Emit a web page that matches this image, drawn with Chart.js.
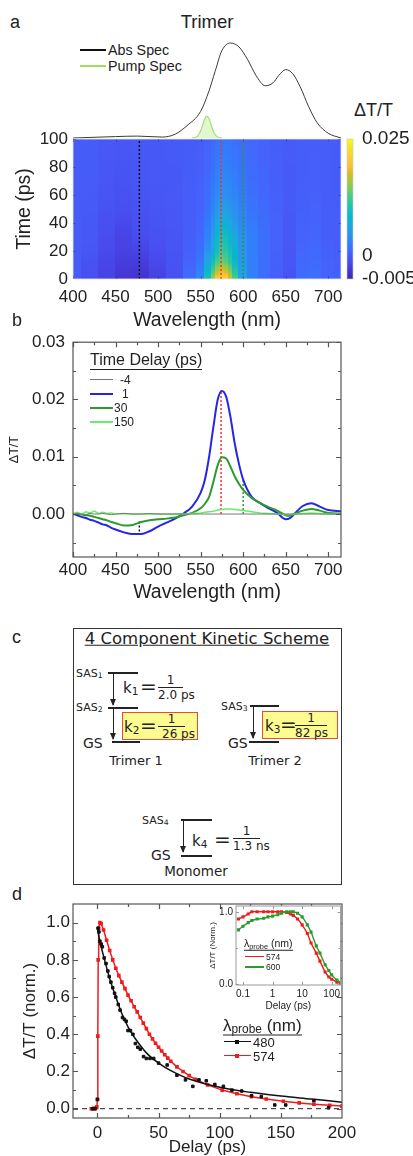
<!DOCTYPE html>
<html>
<head>
<meta charset="utf-8">
<title>Trimer transient absorption</title>
<script src="https://cdn.jsdelivr.net/npm/chart.js@4.4.1/dist/chart.umd.min.js"></script>
<style>
  body { margin: 0; background: #fff; font-family: "Liberation Sans", Arial, sans-serif; color: #222; }
  #page { position: relative; width: 413px; height: 1156px; overflow: hidden; }
  canvas { position: absolute; }
  .t { position: absolute; white-space: nowrap; line-height: 1; transform: translateY(-50%); }
  .c { transform: translate(-50%, -50%); }
  .ln { position: absolute; height: 0; }
  .mk { position: absolute; width: 4px; height: 4px; }
  sub { font-size: 70%; vertical-align: -0.25em; line-height: 0; }
  .ul { display: inline-block; border-bottom: 1.3px solid #222; padding-bottom: 1px; }
  .scheme { font-family: "DejaVu Sans", Verdana, sans-serif; color: #222; }
  .box { position: absolute; border: 1.5px solid #333; box-sizing: border-box; }
  .lvl { position: absolute; height: 0; border-top: 2px solid #222; }
  .arr { position: absolute; width: 0; border-left: 1.5px solid #222; }
  .arr::after { content: ""; position: absolute; left: -4.3px; bottom: -1px; border-left: 3.5px solid transparent; border-right: 3.5px solid transparent; border-top: 7px solid #222; }
  .frac { position: absolute; font-size: 12px; line-height: 1; white-space: nowrap; }
  .frac .n { display: block; text-align: center; border-bottom: 1.3px solid #222; padding-bottom: 1px; }
  .frac .d { display: block; padding-top: 1px; }
  .hl { position: absolute; background: #fbfb8f; border: 1.5px solid #e84a3a; box-sizing: border-box; }
</style>
</head>
<body>
<div id="page">
  <!-- panel a -->
  <div class="t" style="left:10px;top:22px;font-size:18px">a</div>
  <div class="t c" style="left:207px;top:22px;font-size:18.5px">Trimer</div>
  <div class="ln" style="left:80px;top:49px;width:26px;border-top:2.5px solid #111"></div>
  <div class="t" style="left:108px;top:50px;font-size:14.3px">Abs Spec</div>
  <div class="ln" style="left:80px;top:65px;width:26px;border-top:2.5px solid #9be05a"></div>
  <div class="t" style="left:108px;top:66px;font-size:14.3px">Pump Spec</div>
  <div class="t" style="left:354px;top:110px;font-size:18px">ΔT/T</div>
  <canvas id="absChart" width="268" height="103" style="left:73px;top:36px"></canvas>
  <canvas id="mapChart" width="413" height="212" style="left:0;top:120px"></canvas>

  <!-- panel b -->
  <div class="t" style="left:12px;top:320px;font-size:18px">b</div>
  <canvas id="specChart" width="413" height="274" style="left:0;top:330px"></canvas>
  <div class="t" style="left:90px;top:361px;font-size:16px"><span class="ul">Time Delay (ps)</span></div>
  <div class="ln" style="left:90px;top:379px;width:23px;border-top:1.5px solid #777"></div>
  <div class="t" style="left:120px;top:380px;font-size:12px">-4</div>
  <div class="ln" style="left:90px;top:393px;width:23px;border-top:2px solid #2626e6"></div>
  <div class="t" style="left:122px;top:394px;font-size:12px">1</div>
  <div class="ln" style="left:90px;top:407px;width:23px;border-top:2px solid #2e9a2e"></div>
  <div class="t" style="left:114px;top:408px;font-size:12px">30</div>
  <div class="ln" style="left:90px;top:421px;width:23px;border-top:2px solid #66ee66"></div>
  <div class="t" style="left:114px;top:422px;font-size:12px">150</div>

  <!-- panel c -->
  <div class="t" style="left:12px;top:637px;font-size:18px">c</div>
  <div class="box" style="left:73px;top:628px;width:269px;height:257px"></div>
  <div class="t c scheme" style="left:207px;top:639px;font-size:16.5px;text-decoration:underline">4 Component Kinetic Scheme</div>

  <div class="t scheme" style="left:76px;top:673px;font-size:11px">SAS<sub>1</sub></div>
  <div class="lvl" style="left:108px;top:672px;width:30px"></div>
  <div class="arr" style="left:113px;top:674px;height:31px"></div>
  <div class="t scheme" style="left:123px;top:688px;font-size:15px">k<sub>1</sub></div>
  <div class="t scheme" style="left:140px;top:686px;font-size:20px">=</div>
  <div class="frac scheme" style="left:158px;top:674px"><span class="n" style="width:25px">1</span><span class="d">2.0 ps</span></div>

  <div class="t scheme" style="left:76px;top:707px;font-size:11px">SAS<sub>2</sub></div>
  <div class="lvl" style="left:108px;top:707px;width:30px"></div>
  <div class="arr" style="left:113px;top:709px;height:30px"></div>
  <div class="hl" style="left:122px;top:712px;width:76px;height:28px"></div>
  <div class="t scheme" style="left:124px;top:727px;font-size:15px">k<sub>2</sub></div>
  <div class="t scheme" style="left:140px;top:725px;font-size:20px">=</div>
  <div class="frac scheme" style="left:158px;top:713px"><span class="n" style="width:27px">1</span><span class="d" style="padding-left:4px">26 ps</span></div>
  <div class="t scheme" style="left:83px;top:743px;font-size:14px">GS</div>
  <div class="lvl" style="left:112px;top:741px;width:28px"></div>
  <div class="t c scheme" style="left:136px;top:760px;font-size:13px">Trimer 1</div>

  <div class="t scheme" style="left:221px;top:706px;font-size:11px">SAS<sub>3</sub></div>
  <div class="lvl" style="left:250px;top:705px;width:29px"></div>
  <div class="arr" style="left:253px;top:707px;height:31px"></div>
  <div class="hl" style="left:262px;top:711px;width:76px;height:28px"></div>
  <div class="t scheme" style="left:265px;top:726px;font-size:15px">k<sub>3</sub></div>
  <div class="t scheme" style="left:280px;top:724px;font-size:20px">=</div>
  <div class="frac scheme" style="left:295px;top:712px"><span class="n" style="width:32px">1</span><span class="d">82 ps</span></div>
  <div class="t scheme" style="left:228px;top:743px;font-size:14px">GS</div>
  <div class="lvl" style="left:249px;top:741px;width:30px"></div>
  <div class="t c scheme" style="left:275px;top:760px;font-size:13px">Trimer 2</div>

  <div class="t scheme" style="left:142px;top:820px;font-size:11px">SAS<sub>4</sub></div>
  <div class="lvl" style="left:181px;top:819px;width:31px"></div>
  <div class="arr" style="left:183px;top:821px;height:31px"></div>
  <div class="t scheme" style="left:192px;top:841px;font-size:15px">k<sub>4</sub></div>
  <div class="t scheme" style="left:214px;top:839px;font-size:20px">=</div>
  <div class="frac scheme" style="left:233px;top:825px"><span class="n" style="width:27px">1</span><span class="d">1.3 ns</span></div>
  <div class="t scheme" style="left:151px;top:855px;font-size:14px">GS</div>
  <div class="lvl" style="left:181px;top:855px;width:31px"></div>
  <div class="t c scheme" style="left:196px;top:872px;font-size:13.5px">Monomer</div>

  <!-- panel d -->
  <div class="t" style="left:12px;top:894px;font-size:18px">d</div>
  <canvas id="decayChart" width="413" height="273" style="left:0;top:885px"></canvas>
  <canvas id="insetChart" width="150" height="117" style="left:196px;top:895px"></canvas>
  <div class="t" style="left:223px;top:1026px;font-size:17px"><span class="ul">λ<sub>probe</sub> (nm)</span></div>
  <div class="ln" style="left:224px;top:1041px;width:27px;border-top:1.5px solid #111"></div>
  <div class="mk" style="left:235px;top:1040px;background:#111"></div>
  <div class="t" style="left:253px;top:1042px;font-size:13px">480</div>
  <div class="ln" style="left:224px;top:1055px;width:27px;border-top:1.5px solid #f01c1c"></div>
  <div class="mk" style="left:235px;top:1054px;background:#f01c1c"></div>
  <div class="t" style="left:253px;top:1056px;font-size:13px">574</div>
  <div class="t" style="left:244px;top:944px;font-size:10.5px"><span class="ul">λ<sub>probe</sub> (nm)</span></div>
  <div class="ln" style="left:245px;top:956px;width:19px;border-top:1.2px solid #f01c1c"></div>
  <div class="t" style="left:266px;top:957px;font-size:8.5px">574</div>
  <div class="ln" style="left:245px;top:966px;width:19px;border-top:2px solid #2e9a2e"></div>
  <div class="t" style="left:266px;top:967px;font-size:8.5px">600</div>
</div>

<script>
// ---------- panel a: steady-state spectra (normalised) ----------
const absWl  = [400, 450, 476, 505, 520, 534, 550, 560, 567, 575, 585, 595, 605, 615, 626, 635, 642, 650, 658, 667, 677, 687, 700, 715];
const absVal = [0.0, 0.015, 0.02, 0.01, 0.04, 0.13, 0.28, 0.5, 0.7, 0.92, 1.0, 0.96, 0.83, 0.66, 0.55, 0.58, 0.66, 0.72, 0.68, 0.54, 0.33, 0.16, 0.05, 0.0];
const pumpWl  = [540, 545, 548, 551, 554, 557, 560, 563, 566, 570, 575];
const pumpVal = [0, 0.01, 0.04, 0.1, 0.18, 0.23, 0.2, 0.12, 0.05, 0.01, 0];

// ---------- panel a: dT/T map (rows = delay, columns = wavelength) ----------
const mapWl = [400, 420, 440, 460, 480, 500, 520, 540, 550, 560, 565, 570, 575, 580, 585, 590, 600, 610, 625, 640, 655, 670, 685, 700, 715];
const mapT  = [1, 5, 12, 20, 30, 45, 60, 80, 100];
const mapRow1   = [0, -0.001, -0.0021, -0.0032, -0.0035, -0.0022, -0.0008, 0.0013, 0.0037, 0.01, 0.0152, 0.0199, 0.0215, 0.0205, 0.017, 0.0124, 0.006, 0.003, 0.0014, 0.0002, -0.0007, 0.0014, 0.0016, 0.0007, 0.0005];
const mapRow5   = [0, -0.001, -0.002, -0.003, -0.0032, -0.002, -0.0008, 0.001, 0.003, 0.0085, 0.013, 0.017, 0.0185, 0.0178, 0.015, 0.011, 0.0058, 0.003, 0.0014, 0.0003, -0.0006, 0.0012, 0.0014, 0.0006, 0.0004];
const mapRow12  = [0, -0.0008, -0.0018, -0.0026, -0.0026, -0.0016, -0.0007, 0.0007, 0.0022, 0.0065, 0.0098, 0.0128, 0.014, 0.0135, 0.0115, 0.0088, 0.005, 0.0028, 0.0014, 0.0004, -0.0005, 0.001, 0.0012, 0.0005, 0.0003];
const mapRow20  = [0, -0.0005, -0.0015, -0.0022, -0.002, -0.0012, -0.0006, 0.0004, 0.0015, 0.0045, 0.007, 0.0095, 0.0115, 0.0112, 0.0098, 0.0078, 0.0046, 0.0027, 0.0014, 0.0005, -0.0004, 0.0008, 0.001, 0.0004, 0.0002];
const mapRow30  = [0, -0.0003, -0.0013, -0.002, -0.0013, -0.0009, -0.0006, 0.0002, 0.001, 0.003, 0.0056, 0.0085, 0.0099, 0.0097, 0.0083, 0.0066, 0.0042, 0.0028, 0.0015, 0.0006, -0.0003, 0.0006, 0.0008, 0.0002, 0.0001];
const mapRow45  = [0, -0.0002, -0.0009, -0.0013, -0.0009, -0.0006, -0.0004, 0.0001, 0.0007, 0.002, 0.0038, 0.0056, 0.0066, 0.0065, 0.0056, 0.0046, 0.0031, 0.0021, 0.0012, 0.0005, -0.0002, 0.0004, 0.0006, 0.0002, 0.0001];
const mapRow60  = [0, -0.0001, -0.0006, -0.0009, -0.0006, -0.0004, -0.0003, 0.0001, 0.0005, 0.0014, 0.0026, 0.0038, 0.0045, 0.0044, 0.0039, 0.0033, 0.0023, 0.0016, 0.0009, 0.0004, -0.0001, 0.0003, 0.0004, 0.0001, 0];
const mapRow80  = [0, 0, -0.0004, -0.0006, -0.0004, -0.0003, -0.0002, 0, 0.0003, 0.0009, 0.0017, 0.0025, 0.003, 0.003, 0.0027, 0.0023, 0.0017, 0.0012, 0.0007, 0.0003, -0.0001, 0.0002, 0.0003, 0.0001, 0];
const mapRow100 = [0, 0, -0.0003, -0.0004, -0.0003, -0.0002, -0.0001, 0, 0.0002, 0.0006, 0.0012, 0.0017, 0.002, 0.002, 0.0019, 0.0016, 0.0012, 0.0009, 0.0005, 0.0002, 0, 0.0001, 0.0002, 0.0001, 0];
const mapRows = [mapRow1, mapRow5, mapRow12, mapRow20, mapRow30, mapRow45, mapRow60, mapRow80, mapRow100];
const cbMin = -0.005, cbMax = 0.025;
const cbTicks = [-0.005, 0, 0.025];
const wlTicks = [400, 450, 500, 550, 600, 650, 700];
const wlMinor = [425, 475, 525, 575, 625, 675];
const timeTicks = [0, 20, 40, 60, 80, 100];
const probeWl = [478, 574, 600];

// ---------- panel b: transient spectra ----------
const specWl  = [400, 405, 410, 415, 420, 425, 430, 435, 440, 445, 450, 460, 470, 480, 490, 500, 510, 520, 530, 540, 550, 555, 560, 565, 570, 575, 580, 585, 590, 595, 600, 610, 620, 630, 640, 650, 655, 660, 670, 680, 690, 700, 715];
const specM4  = [0, 0.0001, 0, -0.0001, 0.0001, 0, 0, 0.0001, 0, -0.0001, 0, 0.0001, 0, 0, 0.0001, 0, 0, 0, 0, 0, 0, 0, 0, 0, 0, 0, 0, 0, 0, 0, 0, 0, 0, 0, 0, 0, 0, 0, 0, 0, 0, 0, 0];
const spec1   = [0, -0.0002, -0.0005, -0.0007, -0.001, -0.0012, -0.0015, -0.0018, -0.002, -0.0024, -0.0027, -0.0032, -0.0035, -0.0035, -0.003, -0.0022, -0.0015, -0.0008, 0.0001, 0.0013, 0.0037, 0.006, 0.01, 0.0152, 0.0199, 0.0215, 0.0205, 0.017, 0.0124, 0.0088, 0.006, 0.003, 0.0019, 0.001, 0.0002, -0.0009, -0.0007, 0, 0.0014, 0.0019, 0.0013, 0.0007, 0.0005];
const spec30  = [0, 0, -0.0001, -0.0002, -0.0003, -0.0005, -0.0007, -0.0009, -0.0011, -0.0014, -0.0016, -0.002, -0.0019, -0.0014, -0.0011, -0.0009, -0.0008, -0.0006, -0.0002, 0.0002, 0.001, 0.0018, 0.003, 0.0056, 0.0085, 0.0099, 0.0097, 0.0083, 0.0066, 0.0053, 0.0042, 0.0028, 0.0019, 0.0012, 0.0006, -0.0002, -0.0003, 0, 0.0006, 0.0009, 0.0006, 0.0002, 0.0001];
const spec150 = [0.0001, 0.0003, 0, 0.0004, 0.0002, 0.0005, 0.0001, 0.0003, 0.0001, 0.0002, 0, 0.0001, 0, 0, 0, 0, 0, 0, 0, 0.0001, 0.0002, 0.0003, 0.0004, 0.0005, 0.0007, 0.0008, 0.0009, 0.0009, 0.0008, 0.0007, 0.0006, 0.0004, 0.0002, 0.0001, 0, -0.0001, -0.0001, 0, 0.0001, 0.0002, 0.0001, 0, 0];
const dtTicks = [0, 0.01, 0.02, 0.03];
const dtMinor = [-0.005, 0.005, 0.015, 0.025];
const probeLow  = [-0.0013, 0, 0];
const probeHigh = [-0.0035, 0.0213, 0.006];

// ---------- panel d: kinetics ----------
const redT = [-5, -4, -3, -2, -1, -0.5, 0, 0.3, 0.6, 1, 2, 3, 5, 7.5, 10, 12.5, 15, 17.5, 20, 22.5, 25, 27.5, 30, 32.5, 35, 37.5, 40, 42.5, 45, 47.5, 50, 52.5, 55, 57.5, 60, 65, 70, 75, 80, 90, 102, 114, 126, 138, 152, 165, 177, 190, 200];
const redV = [0, 0, 0.002, 0, 0.005, 0.01, 0.05, 0.39, 0.8, 0.97, 1.0, 0.995, 0.96, 0.905, 0.85, 0.8, 0.755, 0.715, 0.68, 0.645, 0.61, 0.58, 0.548, 0.52, 0.49, 0.46, 0.43, 0.4, 0.375, 0.352, 0.33, 0.31, 0.29, 0.272, 0.255, 0.225, 0.2, 0.178, 0.158, 0.128, 0.1, 0.08, 0.064, 0.052, 0.04, 0.031, 0.024, 0.018, 0.014];
const blackT = [-4, -2, 0, 0.5, 1.2, 2, 3, 4, 5.5, 7, 8.5, 9.6, 11, 12.5, 14, 15, 17, 18.5, 20.5, 22, 23.5, 25, 27, 29, 31, 33, 35, 37.7, 40, 43, 46, 50, 57, 65, 72, 78, 83, 89, 96, 103, 110, 118, 126, 134, 145, 154, 177, 189];
const blackV = [0, 0, 0.05, 0.97, 0.95, 0.9, 0.885, 0.87, 0.81, 0.78, 0.74, 0.71, 0.68, 0.65, 0.62, 0.6, 0.56, 0.53, 0.49, 0.48, 0.47, 0.42, 0.42, 0.4, 0.35, 0.33, 0.32, 0.28, 0.27, 0.27, 0.27, 0.245, 0.235, 0.18, 0.155, 0.12, 0.155, 0.15, 0.13, 0.12, 0.1, 0.095, 0.07, 0.065, 0.02, 0.02, 0.043, 0.005];
const fitT = [0, 2, 5, 10, 15, 20, 25, 30, 40, 50, 60, 75, 100, 125, 150, 175, 200];
const fitV = [0.97, 0.9, 0.82, 0.7, 0.6, 0.51, 0.44, 0.385, 0.3, 0.245, 0.205, 0.16, 0.115, 0.088, 0.068, 0.052, 0.035];
const delayTicks = [0, 50, 100, 150, 200];
const delayMinor = [25, 75, 125, 175];
const normTicks = [0, 0.2, 0.4, 0.6, 0.8, 1.0];
const normMinor = [0.1, 0.3, 0.5, 0.7, 0.9];

// inset (log delay)
const insT   = [0.07, 0.1, 0.15, 0.2, 0.3, 0.5, 0.7, 1, 1.5, 2, 3, 4, 5, 7, 10, 15, 20, 30, 40, 60, 80, 100, 150, 200];
const ins574 = [0.9, 0.93, 0.97, 1.0, 1.0, 1.0, 1.0, 1.0, 1.0, 1.0, 0.99, 0.97, 0.95, 0.9, 0.82, 0.7, 0.57, 0.43, 0.32, 0.17, 0.1, 0.07, 0.03, 0.015];
const ins600 = [0.75, 0.8, 0.85, 0.88, 0.9, 0.91, 0.93, 0.94, 0.96, 0.98, 1.0, 1.0, 1.0, 0.98, 0.93, 0.82, 0.72, 0.53, 0.43, 0.27, 0.19, 0.13, 0.06, 0.025];
const insXTicks = [0.1, 1, 10, 100];
const insYTicks = [0, 1];

// ---------- helpers ----------
const parulaStops = ['#3e26a8', '#4537d5', '#484df0', '#4563fc', '#327cfc', '#2b91ef', '#20a5e3', '#08b5d0', '#19bfb6', '#37c897', '#64cd6f', '#9dc943', '#d1bf27', '#febe3c', '#fcd030', '#f5e327', '#f9fb0e'];
const hexRgb = h => [1, 3, 5].map(i => parseInt(h.substr(i, 2), 16));
function parula(v) {
  let f = (v - cbMin) / (cbMax - cbMin);
  f = Math.min(1, Math.max(0, f)) * (parulaStops.length - 1);
  const i = Math.min(Math.floor(f), parulaStops.length - 2), k = f - i;
  const a = hexRgb(parulaStops[i]), b = hexRgb(parulaStops[i + 1]);
  return 'rgb(' + a.map((c, n) => Math.round(c + (b[n] - c) * k)).join(',') + ')';
}
const xy = (xs, ys) => xs.map((x, i) => ({ x: x, y: ys[i] }));

Chart.defaults.font.family = '"Liberation Sans", Arial, sans-serif';
Chart.defaults.color = '#222';
Chart.defaults.animation = false;
Chart.defaults.responsive = false;
Chart.defaults.plugins.legend.display = false;
Chart.defaults.plugins.tooltip.enabled = false;
Chart.defaults.elements.point.radius = 0;
Chart.defaults.elements.line.borderWidth = 1.5;

function axis(o) {
  return {
    type: o.type || 'linear', position: o.pos, min: o.min, max: o.max,
    grid: { display: false, drawTicks: true, tickLength: o.tl || 0 },
    border: { display: false },
    ticks: { font: { size: o.fs }, padding: o.pad, color: '#222', autoSkip: false, maxRotation: 0, callback: o.fmt || (v => String(v)) },
    title: o.title ? { display: true, text: o.title, font: { size: o.tfs }, padding: o.tpad, color: '#222' } : { display: false },
    afterBuildTicks: s => { s.ticks = o.ticks.map(v => ({ value: v })); },
    afterFit: s => { if (o.w != null) s.width = o.w; if (o.h != null) s.height = o.h; }
  };
}

// frame box with inward ticks on all sides
function frame(o) {
  return {
    id: 'frame',
    afterDatasetsDraw(chart) {
      const { ctx, chartArea: a } = chart;
      const sx = chart.scales.x, sy = chart.scales.y;
      ctx.save();
      ctx.strokeStyle = o.color; ctx.lineWidth = o.lw;
      if (o.box) ctx.strokeRect(a.left, a.top, a.right - a.left, a.bottom - a.top);
      ctx.strokeStyle = o.tickColor || o.color;
      const draw = (vals, len, horiz) => (vals || []).forEach(v => {
        ctx.beginPath();
        if (horiz) {
          const p = Math.round(sx.getPixelForValue(v)) + 0.5;
          if (p < a.left || p > a.right) return;
          ctx.moveTo(p, a.bottom); ctx.lineTo(p, a.bottom - len);
          ctx.moveTo(p, a.top); ctx.lineTo(p, a.top + len);
        } else {
          const p = Math.round(sy.getPixelForValue(v)) + 0.5;
          if (p < a.top || p > a.bottom) return;
          ctx.moveTo(a.left, p); ctx.lineTo(a.left + len, p);
          ctx.moveTo(a.right, p); ctx.lineTo(a.right - len, p);
        }
        ctx.stroke();
      });
      draw(o.xMajor, o.major, true); draw(o.xMinor, o.minor, true);
      draw(o.yMajor, o.major, false); draw(o.yMinor, o.minor, false);
      ctx.restore();
    }
  };
}

// ---------- panel a: spectra ----------
new Chart(document.getElementById('absChart'), {
  type: 'line',
  data: { datasets: [
    { data: xy(pumpWl, pumpVal), borderColor: '#a6e070', backgroundColor: 'rgba(190,235,150,0.45)', fill: 'origin', borderWidth: 1.2, tension: 0.4 },
    { data: xy(absWl, absVal), borderColor: '#3a3a3a', borderWidth: 1, tension: 0.4, cubicInterpolationMode: 'monotone' }
  ] },
  options: {
    layout: { padding: 0 },
    scales: {
      x: { type: 'linear', min: 400, max: 715, display: false },
      y: { min: -0.0105, max: 1.074, display: false }
    }
  }
});

// ---------- panel a: map ----------
const heatPlugin = {
  id: 'heat',
  beforeDatasetsDraw(chart) {
    const { ctx, chartArea: a, scales: { x, y } } = chart;
    ctx.save();
    ctx.beginPath(); ctx.rect(a.left, a.top, a.right - a.left, a.bottom - a.top); ctx.clip();
    const colEdge = i => [i === 0 ? 400 : (mapWl[i - 1] + mapWl[i]) / 2, i === mapWl.length - 1 ? 715 : (mapWl[i] + mapWl[i + 1]) / 2];
    mapWl.forEach((w, i) => {
      const [w0, w1] = colEdge(i);
      const x0 = Math.floor(x.getPixelForValue(w0)), x1 = Math.ceil(x.getPixelForValue(w1));
      // below first delay row
      ctx.fillStyle = parula(mapRows[0][i]);
      const yb = y.getPixelForValue(0), yt0 = y.getPixelForValue(mapT[0]);
      ctx.fillRect(x0, yt0, x1 - x0 + 1, yb - yt0 + 1);
      for (let j = 0; j < mapT.length - 1; j++) {
        const ya = y.getPixelForValue(mapT[j]), yc = y.getPixelForValue(mapT[j + 1]);
        const va = mapRows[j][i], vc = mapRows[j + 1][i];
        const g = ctx.createLinearGradient(0, ya, 0, yc);
        for (let s = 0; s <= 4; s++) g.addColorStop(s / 4, parula(va + (vc - va) * s / 4));
        ctx.fillStyle = g;
        ctx.fillRect(x0, yc - 0.5, x1 - x0 + 1, ya - yc + 1);
      }
    });
    ctx.restore();
  },
  afterDraw(chart) {
    const { ctx, chartArea: a } = chart;
    const cb = chart.scales.cb;
    const yT = cb.getPixelForValue(cbMax), yB = cb.getPixelForValue(cbMin);
    const g = ctx.createLinearGradient(0, yB, 0, yT);
    parulaStops.forEach((c, i) => g.addColorStop(i / (parulaStops.length - 1), c));
    ctx.save();
    ctx.fillStyle = g;
    ctx.fillRect(a.right + 6, yT, 6, yB - yT);
    ctx.strokeStyle = '#ccc'; ctx.lineWidth = 0.6;
    ctx.strokeRect(a.right + 6, yT, 6, yB - yT);
    ctx.restore();
  }
};
const probeColors = ['#111', '#ff2a2a', '#2e9a2e'];
new Chart(document.getElementById('mapChart'), {
  type: 'line',
  data: { datasets: probeWl.map((w, i) => ({
    data: [{ x: w, y: 0 }, { x: w, y: 100 }], borderColor: probeColors[i], borderDash: [2, 2], borderWidth: 1.5
  })) },
  options: {
    layout: { padding: { top: 19, left: 0, right: 0, bottom: 0 } },
    scales: {
      x: axis({ pos: 'bottom', min: 400, max: 715, ticks: wlTicks, fs: 17, pad: 8, title: 'Wavelength (nm)', tfs: 19.5, tpad: { top: 0, bottom: 0 }, h: 53 }),
      y: axis({ pos: 'left', min: 0, max: 100, ticks: timeTicks, fs: 17, pad: 1, tl: 4, title: 'Time (ps)', tfs: 19.5, tpad: { top: 13, bottom: 0 }, w: 73 }),
      cb: axis({ pos: 'right', min: cbMin, max: cbMax, ticks: cbTicks, fs: 19, pad: 2, tl: 19, w: 72 })
    }
  },
  plugins: [heatPlugin, frame({ color: 'rgba(230,230,240,0.8)', tickColor: 'rgba(40,40,80,0.35)', lw: 1, box: true, major: 3, minor: 0, xMajor: wlTicks, yMajor: timeTicks })]
});

// ---------- panel b ----------
const probeB = probeWl.map((w, i) => ({
  data: [{ x: w, y: probeLow[i] }, { x: w, y: probeHigh[i] }], borderColor: probeColors[i], borderDash: [2, 2], borderWidth: 1.5
}));
new Chart(document.getElementById('specChart'), {
  type: 'line',
  data: { datasets: [
    { data: xy(specWl, specM4), borderColor: '#777', borderWidth: 1 },
    { data: xy(specWl, spec150), borderColor: '#66ee66', borderWidth: 1.5 },
    { data: xy(specWl, spec30), borderColor: '#2e9a2e', borderWidth: 2, cubicInterpolationMode: 'monotone' },
    { data: xy(specWl, spec1), borderColor: '#2626e6', borderWidth: 2, cubicInterpolationMode: 'monotone' }
  ].concat(probeB) },
  options: {
    layout: { padding: { top: 12, left: 0, right: 72, bottom: 0 } },
    scales: {
      x: axis({ pos: 'bottom', min: 400, max: 715, ticks: wlTicks, fs: 17, pad: 3, title: 'Wavelength (nm)', tfs: 19.5, tpad: { top: 0, bottom: 0 }, h: 47 }),
      y: axis({ pos: 'left', min: -0.0075, max: 0.03, ticks: dtTicks, fs: 17, pad: 2, tl: 6, fmt: v => v.toFixed(2), title: 'ΔT/T', tfs: 12.5, tpad: { top: 7.5, bottom: 0 }, w: 73 })
    }
  },
  plugins: [frame({ color: '#555', lw: 1.2, box: true, major: 5, minor: 3, xMajor: wlTicks, xMinor: wlMinor, yMajor: dtTicks, yMinor: dtMinor })]
});

// ---------- panel d ----------
new Chart(document.getElementById('decayChart'), {
  type: 'line',
  data: { datasets: [
    { data: [{ x: -20, y: 0 }, { x: 200, y: 0 }], borderColor: '#222', borderWidth: 1, borderDash: [5, 4] },
    { data: xy(fitT, fitV), borderColor: '#111', borderWidth: 1.5, tension: 0.3 },
    { data: xy(blackT, blackV), showLine: false, pointRadius: 1.8, pointStyle: 'rect', backgroundColor: '#111', borderColor: '#111' },
    { data: xy(redT, redV), borderColor: '#f01c1c', borderWidth: 1.5, pointRadius: 1.5, pointStyle: 'rect', backgroundColor: '#f01c1c' }
  ] },
  options: {
    layout: { padding: { top: 19, left: 0, right: 71, bottom: 0 } },
    scales: {
      x: axis({ pos: 'bottom', min: -20, max: 200, ticks: delayTicks, fs: 17, pad: 5, title: 'Delay (ps)', tfs: 17, tpad: { top: 0, bottom: 0 }, h: 40 }),
      y: axis({ pos: 'left', min: -0.05, max: 1.1, ticks: normTicks, fs: 17, pad: 1, tl: 2, fmt: v => v.toFixed(1), title: 'ΔT/T (norm.)', tfs: 17, tpad: { top: 20, bottom: 0 }, w: 73 })
    }
  },
  plugins: [frame({ color: '#555', lw: 1.2, box: true, major: 5, minor: 3, xMajor: delayTicks, xMinor: delayMinor, yMajor: normTicks, yMinor: normMinor })]
});

// inset
const whiteArea = {
  id: 'whiteArea',
  beforeDatasetsDraw(chart) {
    const { ctx, chartArea: a } = chart;
    ctx.save(); ctx.fillStyle = '#fff';
    ctx.fillRect(a.left, a.top, a.right - a.left, a.bottom - a.top);
    ctx.restore();
  }
};
new Chart(document.getElementById('insetChart'), {
  type: 'line',
  data: { datasets: [
    { data: xy(insT, ins600), borderColor: '#2e9a2e', borderWidth: 1.4, pointRadius: 1.2, pointStyle: 'rect', backgroundColor: '#2e9a2e', tension: 0.3 },
    { data: xy(insT, ins574), borderColor: '#f01c1c', borderWidth: 1.4, pointRadius: 1.2, pointStyle: 'rect', backgroundColor: '#f01c1c', tension: 0.3 }
  ] },
  options: {
    layout: { padding: { top: 11, left: 0, right: 5, bottom: 0 } },
    scales: {
      x: axis({ type: 'logarithmic', pos: 'bottom', min: 0.058, max: 200, ticks: insXTicks, fs: 10, pad: 3, title: 'Delay (ps)', tfs: 10, tpad: { top: 0, bottom: 0 }, h: 27 }),
      y: axis({ pos: 'left', min: -0.01, max: 1.08, ticks: insYTicks, fs: 10, pad: 1, tl: 2, fmt: v => v.toFixed(1), title: 'ΔT/T (Norm.)', tfs: 8, tpad: { top: 12, bottom: 0 }, w: 40 })
    }
  },
  plugins: [whiteArea, frame({ color: '#999', lw: 1, box: true, major: 3, minor: 2, xMajor: insXTicks, yMajor: insYTicks, yMinor: [0.5] })]
});
</script>
</body>
</html>
